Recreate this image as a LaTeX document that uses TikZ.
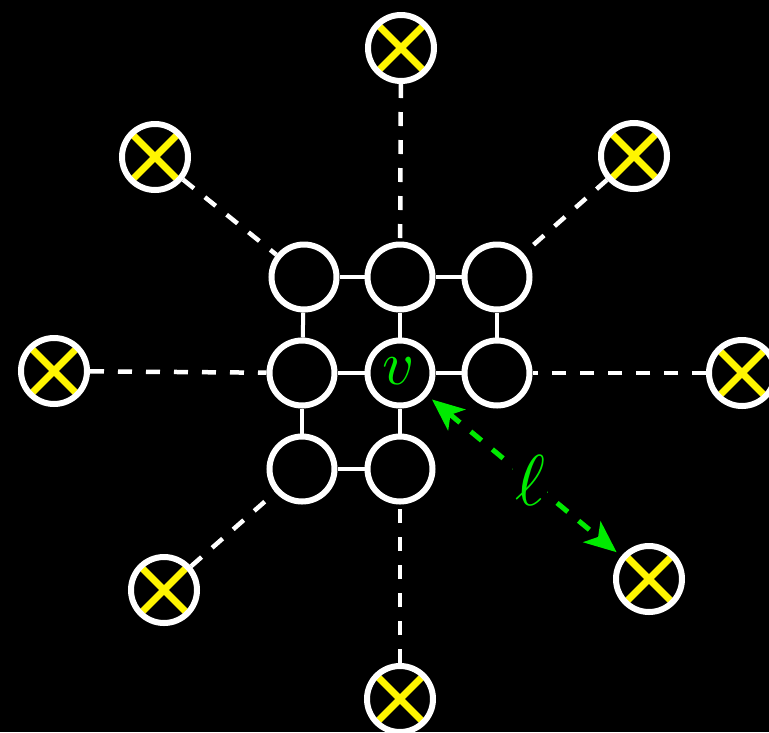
\documentclass[tikz,border=0pt]{standalone}
\usetikzlibrary{arrows.meta}
\definecolor{lgreen}{RGB}{0,235,0}
\definecolor{xyellow}{RGB}{255,245,0}
\begin{document}
\begin{tikzpicture}[x=1pt,y=-1pt,
  gridnode/.style={circle,draw=white,fill=black,line width=6pt,minimum size=65pt,inner sep=0pt},
  xnode/.style={circle,draw=white,fill=black,line width=6pt,minimum size=66pt,inner sep=0pt,
    path picture={\draw[xyellow,line width=7pt]
      (path picture bounding box.north west) -- (path picture bounding box.south east)
      (path picture bounding box.north east) -- (path picture bounding box.south west);}},
  gridedge/.style={draw=white,line width=4pt},
  faredge/.style={draw=white,line width=4.5pt,dash pattern=on 14pt off 14pt},
  dist/.style={draw=lgreen,line width=5pt,dash pattern=on 14pt off 14pt,
    {Stealth[length=32pt,width=27pt,inset=8pt]}-{Stealth[length=32pt,width=27pt,inset=8pt]},shorten <=6pt,shorten >=6pt}]
\fill[black] (0,0) rectangle (769,732);
\useasboundingbox (0,0) rectangle (769,732);
% grid
\node[gridnode] (a1) at (304,277) {};
\node[gridnode] (a2) at (400,277) {};
\node[gridnode] (a3) at (497,277) {};
\node[gridnode] (b1) at (302,373) {};
\node[gridnode] (b2) at (400,373) {};
\node[gridnode] (b3) at (497,373) {};
\node[gridnode] (c1) at (302,469) {};
\node[gridnode] (c2) at (400,469) {};
% outer nodes
\node[xnode] (xt) at (401,48) {};
\node[xnode] (xtl) at (155,157) {};
\node[xnode] (xtr) at (634,156) {};
\node[xnode] (xl) at (54,371) {};
\node[xnode] (xr) at (742,373) {};
\node[xnode] (xbl) at (164,590) {};
\node[xnode] (xbr) at (649,579) {};
\node[xnode] (xb) at (400,699) {};
% grid edges
\draw[gridedge] (a1) -- (a2); \draw[gridedge] (a2) -- (a3);
\draw[gridedge] (b1) -- (b2); \draw[gridedge] (b2) -- (b3);
\draw[gridedge] (c1) -- (c2);
\draw[gridedge] (a1) -- (b1); \draw[gridedge] (b1) -- (c1);
\draw[gridedge] (a2) -- (b2); \draw[gridedge] (b2) -- (c2);
\draw[gridedge] (a3) -- (b3);
% far edges
\draw[faredge] (xt) -- (a2);
\draw[faredge] (xtl) -- (a1);
\draw[faredge] (xtr) -- (a3);
\draw[faredge] (xl) -- (b1);
\draw[faredge] (xr) -- (b3);
\draw[faredge] (xbl) -- (c1);
\draw[faredge] (xb) -- (c2);
% label v
\node[text=lgreen,inner sep=0pt,scale=6.2] (vlab) at (399,371) {$v$};
% distance arrow
\draw[dist] (b2) -- node[pos=0.53,fill=black,text=lgreen,inner sep=0.3pt,scale=7.2] (ell) {$\ell$} (xbr);
\end{tikzpicture}
\end{document}
